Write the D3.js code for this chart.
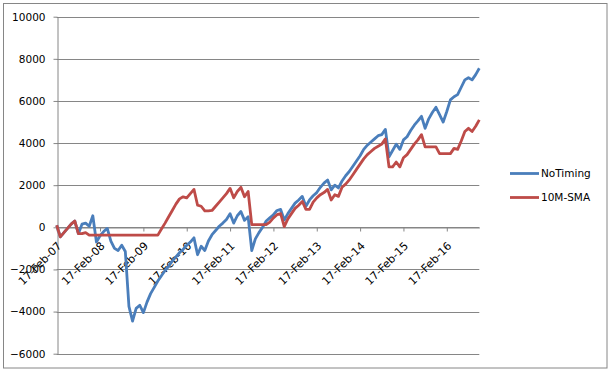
<!DOCTYPE html>
<html>
<head>
<meta charset="utf-8">
<script src="https://cdnjs.cloudflare.com/ajax/libs/d3/7.8.5/d3.min.js"></script>
<style>
  body { margin: 0; background: #fff; }
  text { font-family: "DejaVu Sans", Verdana, sans-serif; font-size: 10.5px; fill: #000; }
</style>
</head>
<body>
<div id="chart"></div>
<script>
var tickLabels = ['17-Feb-07', '17-Feb-08', '17-Feb-09', '17-Feb-10', '17-Feb-11',
                  '17-Feb-12', '17-Feb-13', '17-Feb-14', '17-Feb-15', '17-Feb-16'];
var yTicks = [-6000, -4000, -2000, 0, 2000, 4000, 6000, 8000, 10000];
var seriesNames = ['NoTiming', '10M-SMA'];

var noTiming = [100, -450, -250, -50, 150, 300, -300, 150, 200, 50,
  550, -700, -400, -200, -50, -650, -1000, -1100, -850, -1150,
  -3750, -4450, -3850, -3700, -4050, -3550, -3150, -2850, -2550, -2300,
  -2050, -1850, -1600, -1400, -1200, -1050, -850, -700, -500, -1300,
  -900, -1100, -650, -350, -150, 50, 200, 370, 650, 200,
  550, 750, 330, 500, -1100, -550, -250, 0, 300, 450,
  600, 800, 850, 350, 650, 900, 1150, 1300, 1470, 1000,
  1300, 1500, 1650, 1900, 2100, 2250, 1780, 2000, 1870, 2200,
  2450, 2650, 2900, 3150, 3400, 3700, 3900, 4050, 4200, 4350,
  4400, 4650, 3350, 3650, 3950, 3700, 4150, 4300, 4600, 4850,
  5050, 5270, 4700, 5150, 5450, 5700, 5350, 5000, 5500, 6050,
  6200, 6300, 6650, 7000, 7100, 7000, 7250, 7550];

var sma10 = [100, -450, -250, -50, 150, 300, -300, -300, -250, -370,
  -370, -370, -370, -370, -370, -370, -370, -370, -370, -370,
  -370, -370, -370, -370, -370, -370, -370, -370, -370, -80,
  200, 500, 800, 1100, 1350, 1450, 1400, 1600, 1800, 1050,
  1000, 780, 780, 800, 1000, 1200, 1400, 1600, 1850, 1400,
  1700, 1900, 1450, 1700, 130, 130, 130, 130, 130, 250,
  450, 600, 650, 30, 400, 650, 900, 1050, 1230, 850,
  850, 1200, 1400, 1550, 1650, 1800, 1300, 1550, 1470, 1900,
  2050, 2250, 2500, 2750, 3000, 3250, 3450, 3600, 3750, 3850,
  3950, 4200, 2870, 2870, 3100, 2870, 3300, 3450, 3700, 3950,
  4150, 4400, 3820, 3820, 3820, 3820, 3500, 3500, 3500, 3500,
  3750, 3700, 4100, 4550, 4700, 4550, 4800, 5100];

var colors = ['#4A7EBB', '#BE4B48'];
var gridColor = '#868686';

var W = 611, H = 372;
var plotLeft = 56.7, plotRight = 479.3, plotTop = 16.7, plotBottom = 353.7;

var svg = d3.select('#chart').append('svg')
  .attr('width', W)
  .attr('height', H);

svg.append('rect')
  .attr('x', 3.5).attr('y', 3.5)
  .attr('width', W - 7.5).attr('height', H - 7.5)
  .attr('fill', '#fff')
  .attr('stroke', gridColor);

var x = d3.scaleLinear()
  .domain([0, noTiming.length - 1])
  .range([plotLeft, plotRight]);

var y = d3.scaleLinear()
  .domain([-6000, 10000])
  .range([plotBottom, plotTop]);

// gridlines
svg.append('g').selectAll('line').data(yTicks)
  .enter().append('line')
    .attr('x1', plotLeft).attr('x2', plotRight)
    .attr('y1', function(d) { return Math.round(y(d)) + 0.5; })
    .attr('y2', function(d) { return Math.round(y(d)) + 0.5; })
    .attr('stroke', gridColor);

var yAxis = svg.append('g')
  .attr('transform', 'translate(' + (Math.round(plotLeft) + 0.5) + ',0)')
  .call(d3.axisLeft(y).tickValues(yTicks).tickSize(4).tickSizeOuter(0).tickPadding(8)
    .tickFormat(d3.format('d')));
yAxis.selectAll('line, path').attr('stroke', gridColor);
yAxis.selectAll('text').style('font-size', '10.5px').attr('fill', '#000');

var xAxis = svg.append('g')
  .attr('transform', 'translate(0,' + (Math.round(y(0)) + 0.5) + ')')
  .call(d3.axisBottom(x).tickValues(d3.range(0, 109, 12)).tickSize(4).tickSizeOuter(0)
    .tickFormat(function(d, i) { return tickLabels[i]; }));
xAxis.selectAll('line, path').attr('stroke', gridColor);
xAxis.selectAll('text')
  .style('font-size', '11px')
  .attr('fill', '#000')
  .attr('text-anchor', 'end')
  .attr('x', 0).attr('y', 0).attr('dy', 0)
  .attr('transform', 'translate(5,19) rotate(-45)');

var line = d3.line()
  .x(function(d, i) { return x(i); })
  .y(function(d) { return y(d); });

[noTiming, sma10].forEach(function(data, k) {
  svg.append('path')
    .datum(data)
    .attr('fill', 'none')
    .attr('stroke', colors[k])
    .attr('stroke-width', 2.8)
    .attr('stroke-linejoin', 'round')
    .attr('d', line);
});

var legend = svg.append('g').selectAll('g').data(seriesNames)
  .enter().append('g')
    .attr('transform', function(d, i) { return 'translate(510,' + (173.5 + i * 24) + ')'; });
legend.append('line')
  .attr('x1', 0).attr('x2', 29)
  .attr('stroke', function(d, i) { return colors[i]; })
  .attr('stroke-width', 2.8);
legend.append('text')
  .attr('x', 31)
  .attr('dy', '0.35em')
  .text(function(d) { return d; });
</script>
</body>
</html>
